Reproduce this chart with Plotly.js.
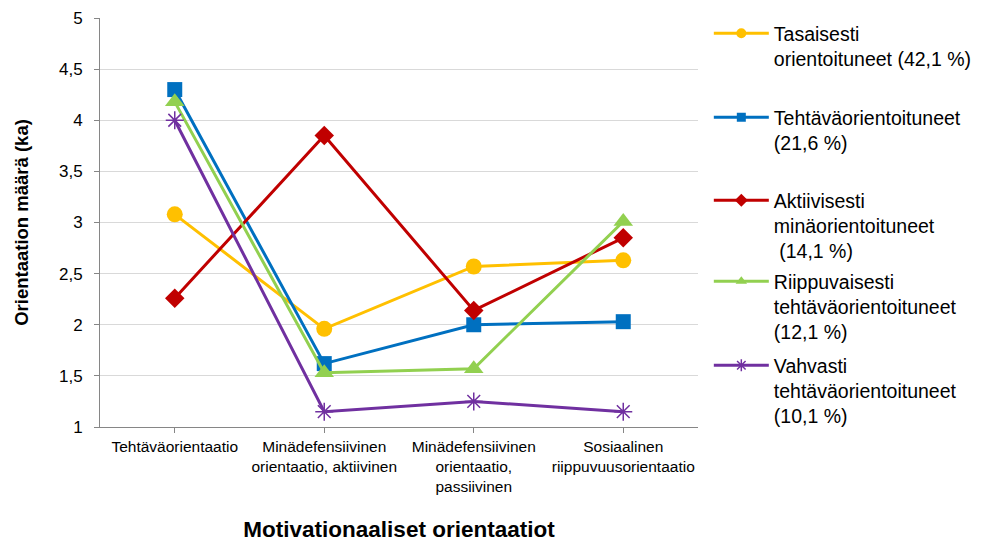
<!DOCTYPE html>
<html>
<head>
<meta charset="utf-8">
<script src="https://cdn.plot.ly/plotly-3.0.1.min.js"></script>
<style>body{margin:0;padding:0;background:#fff}#chart{width:989px;height:542px}</style>
</head>
<body>
<div id="chart"></div>
<script>
const categories = [
  "Tehtäväorientaatio",
  "Minädefensiivinen<br>orientaatio, aktiivinen",
  "Minädefensiivinen<br>orientaatio,<br>passiivinen",
  "Sosiaalinen<br>riippuvuusorientaatio"
];
const seriesNames = [
  "Tasaisesti<br>orientoituneet (42,1 %)",
  "Tehtäväorientoituneet<br>(21,6 %)",
  "Aktiivisesti<br>minäorientoituneet<br> (14,1 %)",
  "Riippuvaisesti<br>tehtäväorientoituneet<br>(12,1 %)",
  "Vahvasti<br>tehtäväorientoituneet<br>(10,1 %)"
];
const tasaisesti = [3.08, 1.96, 2.57, 2.63];
const tehtava = [4.30, 1.62, 2.00, 2.03];
const aktiivisesti = [2.26, 3.85, 2.14, 2.85];
const riippuvaisesti = [4.18, 1.53, 1.57, 3.01];
const vahvasti = [4.00, 1.15, 1.25, 1.15];

const colors = ["#FFC000", "#0070C0", "#C00000", "#92D050", "#7030A0"];
const symbols = ["circle", "square", "diamond", "triangle-up", "asterisk-open"];
const sizes = [16, 15, 15, 17, 15];
const legendSizes = [10, 9, 10, 10, 10];
const values = [tasaisesti, tehtava, aktiivisesti, riippuvaisesti, vahvasti];
const legendIds = ["legend", "legend2", "legend3", "legend4", "legend5"];

function mk(i, size) {
  return {color: colors[i], symbol: symbols[i], size: size,
          line: {color: colors[i], width: symbols[i] === "asterisk-open" ? 1.5 : 0}};
}
const traces = values.map((v, i) => ({
  type: "scatter",
  mode: "lines+markers",
  x: categories,
  y: v,
  name: seriesNames[i],
  showlegend: false,
  line: {color: colors[i], width: 3},
  marker: mk(i, sizes[i])
}));
// legend entries (smaller legend markers, as in the original)
values.forEach((v, i) => {
  traces.push({
    type: "scatter",
    mode: "lines+markers",
    x: [null], y: [null],
    name: seriesNames[i],
    legend: legendIds[i],
    showlegend: true,
    hoverinfo: "skip",
    line: {color: colors[i], width: 3},
    marker: mk(i, legendSizes[i])
  });
});

const font = "Liberation Sans, Arial, sans-serif";
const firstLineCenters = [33, 117, 200, 281, 365];
const layout = {
  width: 989, height: 542,
  margin: {l: 100, r: 281, t: 18, b: 115},
  paper_bgcolor: "#fff", plot_bgcolor: "#fff",
  separators: ",.",
  font: {family: font, color: "#000"},
  showlegend: true,
  xaxis: {
    type: "category",
    range: [-0.5, 3.5],
    showline: true, linecolor: "#868686", linewidth: 1,
    ticks: "outside", ticklen: 5, tickcolor: "#868686",
    showgrid: false,
    automargin: false,
    tickfont: {size: 15.5, family: font, color: "#000"},
    title: {text: "<b>Motivationaaliset orientaatiot</b>", font: {size: 22.5, family: font, color: "#000"}, standoff: 44}
  },
  yaxis: {
    range: [1, 5], dtick: 0.5, tick0: 1,
    showline: true, linecolor: "#868686", linewidth: 1,
    ticks: "outside", ticklen: 5, tickcolor: "#868686",
    ticklabelstandoff: 8,
    gridcolor: "#D9D9D9", gridwidth: 1,
    zeroline: false,
    automargin: false,
    tickfont: {size: 17, family: font, color: "#000"},
    title: {text: "<b>Orientaation määrä (ka)</b>", font: {size: 18.5, family: font, color: "#000"}, standoff: 25}
  }
};
const plotW = 989 - 100 - 281;
legendIds.forEach((id, i) => {
  const topPx = firstLineCenters[i] - 19;
  layout[id] = {
    x: (719 - 100) / plotW,
    y: 1 - (topPx - 18) / 409,
    xanchor: "left", yanchor: "top",
    valign: "top",
    bgcolor: "rgba(0,0,0,0)",
    font: {size: 19.5, family: font, color: "#000"},
    itemwidth: 55
  };
});
Plotly.newPlot("chart", traces, layout, {displayModeBar: false, staticPlot: true});
</script>
</body>
</html>
